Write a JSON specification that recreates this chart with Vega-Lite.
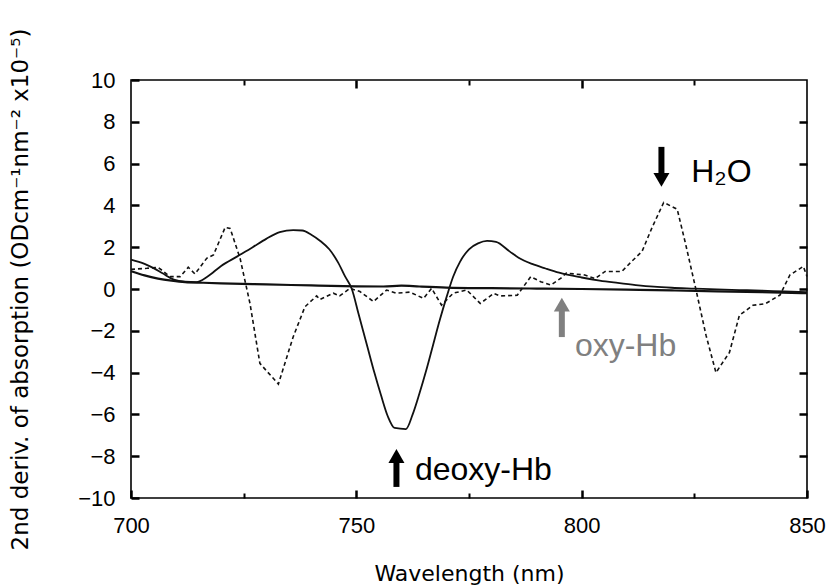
{
  "$schema": "https://vega.github.io/schema/vega-lite/v6.json",
  "width": 676,
  "height": 418,
  "autosize": {"type": "none"},
  "padding": {"left": 131, "top": 80, "right": 24, "bottom": 88},
  "background": "white",
  "config": {
    "view": {"stroke": "black", "strokeWidth": 1.6},
    "font": "Liberation Sans",
    "axis": {
      "grid": false,
      "domain": false,
      "zindex": 2,
      "labelColor": "black",
      "titleColor": "black",
      "labelFont": "Liberation Sans",
      "titleFont": "DejaVu Sans",
      "labelFontSize": 22,
      "titleFontSize": 22,
      "titleFontWeight": "normal",
      "labelFlush": false
    }
  },
  "datasets": {
    "deoxy": [
      {"wl": 700, "v": 1.4}, {"wl": 703, "v": 1.2}, {"wl": 705, "v": 1.0}, {"wl": 707, "v": 0.75},
      {"wl": 709.5, "v": 0.45}, {"wl": 712, "v": 0.35}, {"wl": 714.5, "v": 0.33}, {"wl": 717, "v": 0.6},
      {"wl": 720, "v": 1.1}, {"wl": 723.5, "v": 1.55}, {"wl": 727, "v": 2.0}, {"wl": 730, "v": 2.4},
      {"wl": 733, "v": 2.72}, {"wl": 736, "v": 2.82}, {"wl": 738, "v": 2.8}, {"wl": 740, "v": 2.6},
      {"wl": 742, "v": 2.3}, {"wl": 744, "v": 1.9}, {"wl": 746, "v": 1.25}, {"wl": 747.5, "v": 0.6},
      {"wl": 749, "v": 0.0}, {"wl": 750.5, "v": -1.2}, {"wl": 752.5, "v": -2.8}, {"wl": 754, "v": -4.0},
      {"wl": 755.5, "v": -5.1}, {"wl": 757, "v": -6.1}, {"wl": 758.5, "v": -6.65}, {"wl": 761, "v": -6.7},
      {"wl": 762.5, "v": -6.0}, {"wl": 764, "v": -5.0}, {"wl": 765.5, "v": -3.9}, {"wl": 767, "v": -2.7},
      {"wl": 768.5, "v": -1.5}, {"wl": 770, "v": -0.4}, {"wl": 771.5, "v": 0.6}, {"wl": 773, "v": 1.3},
      {"wl": 775, "v": 1.9}, {"wl": 777, "v": 2.18}, {"wl": 779, "v": 2.3}, {"wl": 781, "v": 2.25},
      {"wl": 784, "v": 1.8}, {"wl": 786, "v": 1.5}, {"wl": 789, "v": 1.2}, {"wl": 792, "v": 0.98},
      {"wl": 795, "v": 0.78}, {"wl": 800, "v": 0.55}, {"wl": 804, "v": 0.4}, {"wl": 808, "v": 0.29},
      {"wl": 812, "v": 0.19}, {"wl": 816, "v": 0.11}, {"wl": 820, "v": 0.06}, {"wl": 825, "v": 0.02},
      {"wl": 830, "v": -0.02}, {"wl": 835, "v": -0.05}, {"wl": 840, "v": -0.08}, {"wl": 845, "v": -0.12},
      {"wl": 850, "v": -0.15}
    ],
    "oxy": [
      {"wl": 700, "v": 0.85}, {"wl": 703, "v": 0.65}, {"wl": 706, "v": 0.5}, {"wl": 709, "v": 0.4},
      {"wl": 712, "v": 0.33}, {"wl": 716, "v": 0.3}, {"wl": 720, "v": 0.27}, {"wl": 730, "v": 0.22},
      {"wl": 740, "v": 0.17}, {"wl": 750, "v": 0.13}, {"wl": 756, "v": 0.12}, {"wl": 760, "v": 0.16},
      {"wl": 764, "v": 0.12}, {"wl": 770, "v": 0.07}, {"wl": 780, "v": 0.04}, {"wl": 790, "v": 0.02},
      {"wl": 800, "v": 0.0}, {"wl": 810, "v": -0.03}, {"wl": 820, "v": -0.07}, {"wl": 830, "v": -0.11},
      {"wl": 840, "v": -0.15}, {"wl": 850, "v": -0.2}
    ],
    "water": [
      {"wl": 700, "v": 0.94}, {"wl": 703.5, "v": 0.99}, {"wl": 706, "v": 1.04}, {"wl": 708.7, "v": 0.59},
      {"wl": 710.9, "v": 0.59}, {"wl": 712.7, "v": 1.04}, {"wl": 714.2, "v": 0.72}, {"wl": 716.8, "v": 1.47},
      {"wl": 718.3, "v": 1.63}, {"wl": 720.9, "v": 2.95}, {"wl": 722, "v": 2.9}, {"wl": 724.2, "v": 1.47},
      {"wl": 726.4, "v": -0.69}, {"wl": 728.6, "v": -3.56}, {"wl": 732.7, "v": -4.55}, {"wl": 736, "v": -2.28},
      {"wl": 738.6, "v": -0.85}, {"wl": 741.2, "v": -0.33}, {"wl": 741.9, "v": -0.5}, {"wl": 744.9, "v": -0.2},
      {"wl": 746.3, "v": -0.33}, {"wl": 748.6, "v": 0.03}, {"wl": 750.8, "v": -0.12}, {"wl": 753.8, "v": -0.6},
      {"wl": 756.7, "v": -0.05}, {"wl": 758.9, "v": -0.2}, {"wl": 761.9, "v": -0.15}, {"wl": 764.9, "v": -0.45},
      {"wl": 766.7, "v": 0.03}, {"wl": 768.9, "v": -0.77}, {"wl": 771.5, "v": -0.2}, {"wl": 774.5, "v": -0.05},
      {"wl": 777.5, "v": -0.69}, {"wl": 780.5, "v": -0.21}, {"wl": 781.9, "v": -0.33}, {"wl": 785.7, "v": -0.3},
      {"wl": 788.7, "v": 0.59}, {"wl": 790.9, "v": 0.35}, {"wl": 793.2, "v": 0.19}, {"wl": 795.4, "v": 0.52},
      {"wl": 796.6, "v": 0.76}, {"wl": 800.7, "v": 0.67}, {"wl": 803, "v": 0.5}, {"wl": 805.2, "v": 0.84},
      {"wl": 808.9, "v": 0.84}, {"wl": 811.1, "v": 1.32}, {"wl": 813.4, "v": 1.8}, {"wl": 815.6, "v": 2.93},
      {"wl": 818.2, "v": 4.14}, {"wl": 821.2, "v": 3.82}, {"wl": 823.1, "v": 2.12}, {"wl": 825.3, "v": 0.03},
      {"wl": 827.6, "v": -2.22}, {"wl": 829.8, "v": -4.0}, {"wl": 832.8, "v": -3.03}, {"wl": 835, "v": -1.26},
      {"wl": 838, "v": -0.78}, {"wl": 840.8, "v": -0.7}, {"wl": 844, "v": -0.29}, {"wl": 846.2, "v": 0.67},
      {"wl": 849.2, "v": 1.08}, {"wl": 850, "v": 0.6}
    ],
    "arrows": [
      {"name": "H2O", "dir": "down", "wl": 817.7, "from": 6.8, "to": 5.4, "head": 5.22},
      {"name": "oxy-Hb", "dir": "up", "wl": 795.6, "from": -0.95, "to": -2.3, "head": -0.75},
      {"name": "deoxy-Hb", "dir": "up", "wl": 758.9, "from": -8.2, "to": -9.47, "head": -7.99}
    ],
    "labels": [
      {"name": "H2O", "label": "H₂O", "wl": 824.3, "v": 5.6},
      {"name": "oxy-Hb", "label": "oxy-Hb", "wl": 798.5, "v": -2.75},
      {"name": "deoxy-Hb", "label": "deoxy-Hb", "wl": 763.0, "v": -8.66}
    ]
  },
  "resolve": {"axis": {"x": "independent", "y": "independent"}},
  "layer": [
    {
      "data": {"name": "deoxy"},
      "mark": {"type": "line", "interpolate": "monotone", "color": "#111111", "strokeWidth": 1.8},
      "encoding": {
        "x": {"field": "wl", "type": "quantitative", "scale": {"domain": [700, 850], "nice": false, "zero": false},
          "axis": {"orient": "bottom", "values": [700, 750, 800, 850], "tickSize": -8, "tickColor": "#000000", "tickWidth": 2.5, "labelPadding": 25,
            "title": "Wavelength (nm)", "titleBaseline": "middle", "titleY": 75}},
        "y": {"field": "v", "type": "quantitative", "scale": {"domain": [-10, 10], "nice": false, "zero": false},
          "axis": {"orient": "left", "values": [-10, -8, -6, -4, -2, 0, 2, 4, 6, 8, 10], "tickSize": -8, "tickColor": "#000000", "tickWidth": 2.5, "labelPadding": 24,
            "title": "2nd deriv. of absorption (ODcm⁻¹nm⁻² x10⁻⁵)", "titleFontSize": 23, "titleBaseline": "middle", "titleX": -111}}
      }
    },
    {
      "data": {"name": "oxy"},
      "mark": {"type": "line", "interpolate": "monotone", "color": "#111111", "strokeWidth": 2.2},
      "encoding": {
        "x": {"field": "wl", "type": "quantitative",
          "axis": {"orient": "top", "values": [750, 800], "offset": -8, "tickSize": 8, "tickColor": "#000000", "tickWidth": 2.5, "labels": false, "title": null}},
        "y": {"field": "v", "type": "quantitative",
          "axis": {"orient": "right", "values": [-8, -6, -4, -2, 0, 2, 4, 6, 8], "offset": -8, "tickSize": 8, "tickColor": "#000000", "tickWidth": 2.5, "labels": false, "title": null}}
      }
    },
    {
      "data": {"name": "water"},
      "mark": {"type": "line", "color": "#111111", "strokeWidth": 1.6, "strokeDash": [4, 3]},
      "encoding": {
        "x": {"field": "wl", "type": "quantitative",
          "axis": {"orient": "bottom", "values": [725, 775, 825], "offset": -5, "tickSize": 5, "tickColor": "#000000", "tickWidth": 2, "labels": false, "title": null}},
        "y": {"field": "v", "type": "quantitative", "axis": null}
      }
    },
    {
      "data": {"name": "arrows"},
      "mark": {"type": "rule", "strokeWidth": 6},
      "encoding": {
        "x": {"field": "wl", "type": "quantitative",
          "axis": {"orient": "top", "values": [725, 775, 825], "offset": -5, "tickSize": 5, "tickColor": "#000000", "tickWidth": 2, "labels": false, "title": null}},
        "y": {"field": "from", "type": "quantitative", "axis": null},
        "y2": {"field": "to"},
        "color": {"field": "name", "type": "nominal", "legend": null,
          "scale": {"domain": ["H2O", "oxy-Hb", "deoxy-Hb"], "range": ["#000000", "#808080", "#000000"]}}
      }
    },
    {
      "data": {"name": "arrows"},
      "mark": {"type": "point", "filled": true, "opacity": 1, "size": 256, "strokeWidth": 0},
      "encoding": {
        "x": {"field": "wl", "type": "quantitative", "axis": null},
        "y": {"field": "head", "type": "quantitative", "axis": null},
        "shape": {"field": "dir", "type": "nominal", "legend": null,
          "scale": {"domain": ["down", "up"], "range": ["triangle-down", "triangle-up"]}},
        "color": {"field": "name", "type": "nominal", "legend": null}
      }
    },
    {
      "data": {"name": "labels"},
      "mark": {"type": "text", "align": "left", "baseline": "middle", "fontSize": 32, "font": "Liberation Sans"},
      "encoding": {
        "x": {"field": "wl", "type": "quantitative", "axis": null},
        "y": {"field": "v", "type": "quantitative", "axis": null},
        "text": {"field": "label"},
        "color": {"field": "name", "type": "nominal", "legend": null}
      }
    }
  ]
}
